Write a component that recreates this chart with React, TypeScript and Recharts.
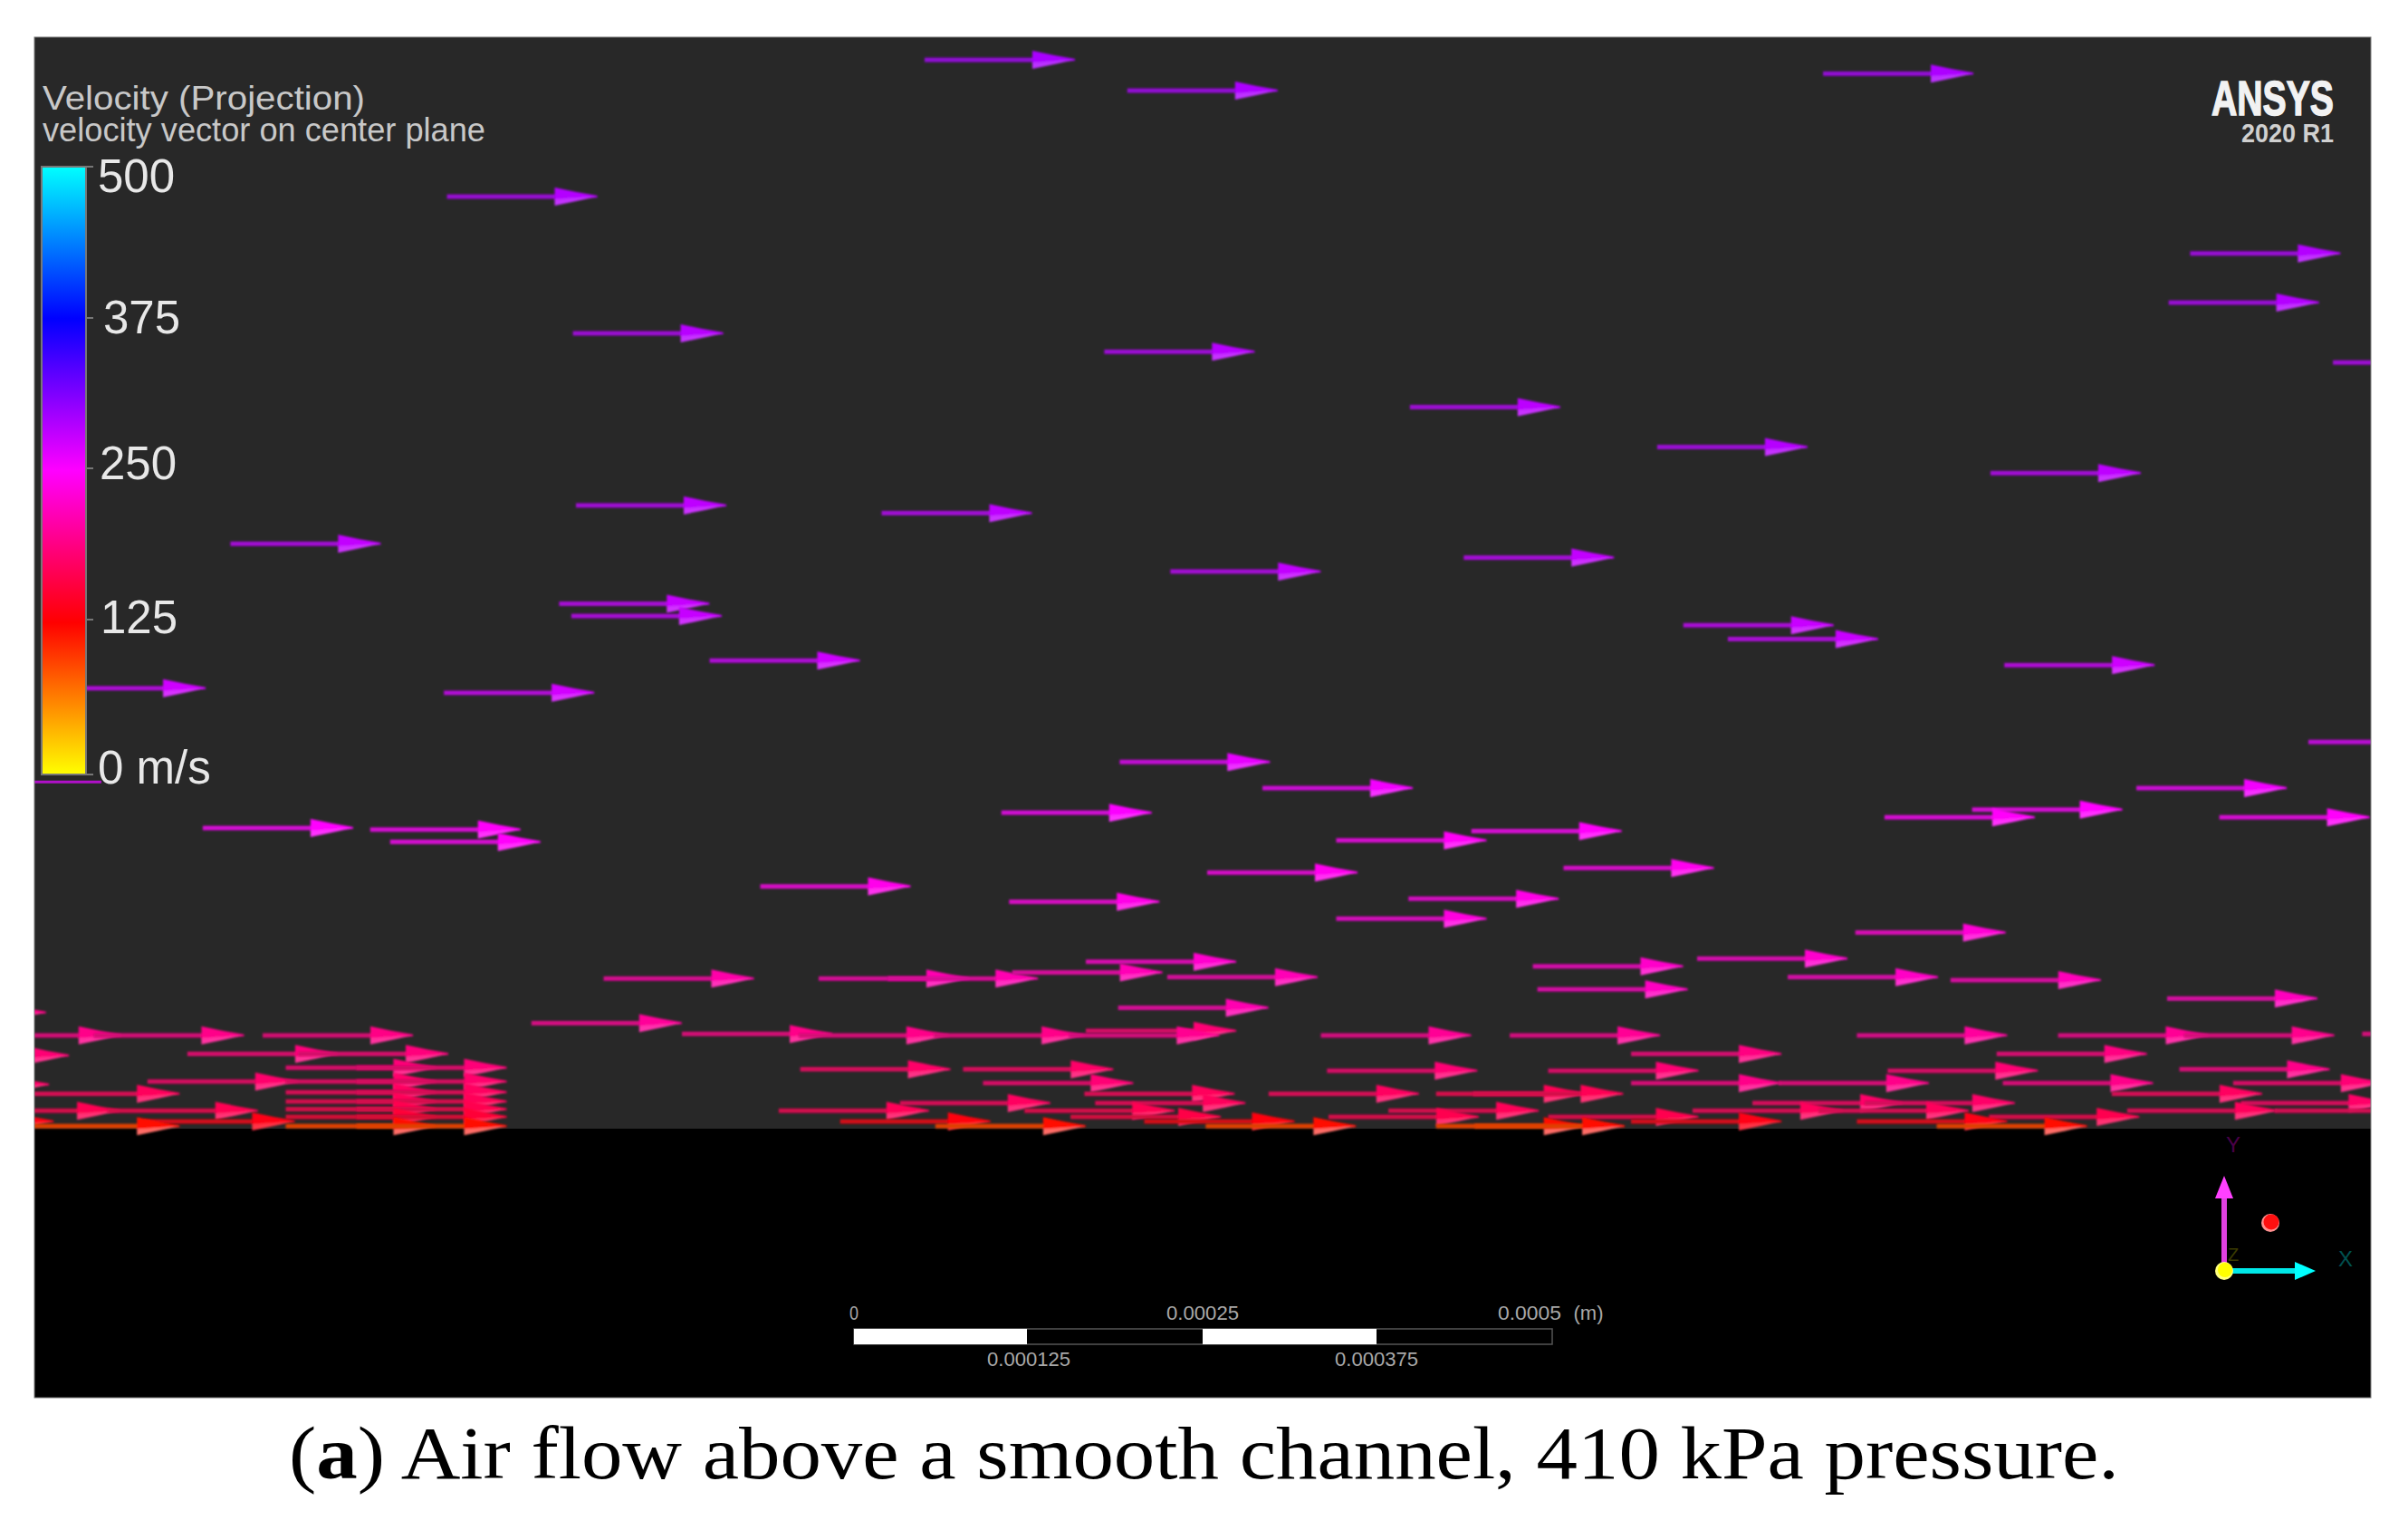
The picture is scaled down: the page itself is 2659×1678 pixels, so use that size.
import React from "react";
import { ScatterChart, Scatter, XAxis, YAxis, ReferenceArea, ReferenceLine } from "recharts";

// Every arrow: [tail position along the channel, vertical position, speed in m/s].
type A = [number, number, number];

const coreArrows: A[] = [
  [602, 39, 292], [734, 59, 290], [1187, 48, 290], [291, 128, 287], [1426, 165, 287], [1412, 197, 287],
  [373, 217, 285], [719, 229, 285], [1519, 236, 284], [918, 265, 283], [1079, 291, 286], [1296, 308, 282],
  [375, 329, 282], [574, 334, 282], [150, 354, 280], [762, 372, 280], [953, 363, 280], [364, 393, 278],
  [372, 401, 278], [1096, 407, 277], [1125, 416, 277], [462, 430, 274], [1305, 433, 274], [36, 448, 274],
  [289, 451, 272], [1503, 483, 266],
];
const midArrows: A[] = [
  [729, 496, 262], [822, 513, 256], [652, 529, 252], [1391, 513, 256], [1284, 527, 250], [1227, 532, 248],
  [1445, 532, 248], [132, 539, 250], [241, 540, 248], [254, 548, 248], [870, 547, 246], [958, 541, 248],
  [786, 568, 242], [1018, 565, 242], [495, 577, 240], [657, 587, 238], [917, 585, 238], [870, 598, 235],
  [1208, 607, 230], [1105, 624, 226], [707, 626, 226], [998, 629, 224], [1001, 644, 220], [533, 637, 212],
  [578, 637, 212], [659, 633, 214], [760, 636, 214], [393, 637, 208], [1164, 636, 222], [1270, 638, 216],
  [1411, 650, 218], [728, 656, 212], [346, 666, 200],
];
const upperLayerArrows: A[] = [
  [-68, 659, 190], [-19, 674, 192], [61, 674, 192], [171, 674, 190], [-53, 687, 182], [122, 686, 186],
  [194, 686, 186], [186, 695, 184], [232, 695, 184], [-66, 706, 176], [96, 704, 178], [186, 704, 178],
  [232, 704, 178], [444, 673, 192], [520, 674, 192], [608, 674, 192], [707, 671, 182], [696, 674, 196],
  [860, 674, 198], [983, 674, 198], [1209, 674, 202], [1340, 674, 198], [1422, 674, 194], [1538, 673, 194],
  [1062, 686, 188], [1300, 686, 188], [521, 696, 176], [627, 696, 176], [864, 697, 182], [1008, 697, 182],
  [1229, 697, 182], [1419, 696, 192], [640, 705, 182], [1062, 705, 192], [1158, 705, 192], [1304, 705, 192],
  [1454, 705, 182],
];
const nearWallArrows: A[] = [
  [19, 712, 170], [186, 711, 172], [232, 711, 172], [706, 712, 170], [826, 712, 172], [935, 712, 166],
  [959, 712, 166], [1375, 712, 172], [186, 717, 168], [232, 717, 168], [586, 718, 172], [713, 718, 170],
  [1141, 718, 176], [1214, 718, 176], [1459, 718, 176], [-20, 723, 165], [70, 723, 165], [186, 722, 164],
  [232, 722, 164], [507, 723, 168], [667, 723, 165], [904, 723, 168], [1102, 723, 170], [1184, 723, 170],
  [1385, 723, 170], [1481, 723, 170], [186, 727, 152], [232, 727, 152], [697, 727, 160], [865, 727, 164],
  [1008, 727, 164], [1295, 727, 164],
];
const wallArrows: A[] = [
  [-63, 730, 136], [94, 730, 136], [547, 730, 132], [745, 730, 132], [1062, 730, 136], [1209, 730, 136],
  [19, 733, 120], [186, 733, 120], [232, 733, 120], [609, 733, 120], [785, 733, 120], [935, 733, 120],
  [960, 733, 120], [1261, 733, 120],
];
const colorbarTicks = ["500", "375", "250", "125", "0 m/s"];
const colorStops = ["#ffff00", "#ff0000", "#ff00ff", "#0000ff", "#00ffff"];
const scaleLabelsTop = ["0", "0.00025", "0.0005"];
const scaleLabelsBottom = ["0.000125", "0.000375"];
const caption = ["(", "a", ") Air flow above a smooth channel, 410 kPa pressure."];

const toRows = (rows: A[]) => rows.map(([x, y, speed]) => ({ x, y, speed }));

const W = 2659;
const H = 1678;
const PANEL = { left: 38, top: 41, right: 2618, bottom: 1543 };
const mix = (a: number[], b: number[], t: number) => a.map((v, i) => Math.round(v + (b[i] - v) * t));
const hex = (c: string) => [1, 3, 5].map((i) => parseInt(c.slice(i, i + 2), 16));
const colorAt = (s: number) => {
  const p = Math.max(0, Math.min(3.999, s / 125));
  const i = Math.floor(p);
  return mix(hex(colorStops[i]), hex(colorStops[i + 1]), p - i);
};
const rgb = (c: number[]) => `rgb(${c.join(",")})`;

const Arrow = (props: any) => {
  const { cx, cy, payload } = props;
  const s = payload.speed as number;
  const c = colorAt(s);
  const shaft = mix(colorAt(s < 130 ? s - 28 : s), [40, 40, 40], s < 130 ? 0.15 : 0.2);
  const light = mix(c, [255, 255, 255], s < 130 ? 0.4 : 0.2);
  const len = 166;
  const headLen = 47;
  const base = cx + len - headLen;
  return (
    <g clipPath="url(#panelClip)">
      <g filter="url(#soft)">
        <rect x={cx} y={cy - 2.5} width={len - headLen + 2} height={5} fill={rgb(shaft)} />
        <polygon points={`${base},${cy - 10} ${base + 24},${cy - 5} ${cx + len},${cy - 1} ${cx + len},${cy + 1} ${base},${cy + 4}`} fill={rgb(c)} />
        <polygon points={`${base},${cy + 3} ${cx + len},${cy} ${base + 24},${cy + 5} ${base},${cy + 10}`} fill={rgb(light)} />
      </g>
    </g>
  );
};

const sans = "'Liberation Sans', Arial, sans-serif";
const tickYs = [195, 351, 512, 682, 848];
const tickXs = [108, 114, 110, 111, 108];
const tickMarkYs = [184, 351, 517, 684, 855];

export default function App() {
  return (
    <div style={{ position: "absolute", left: 0, top: 0, width: W, height: H, background: "#fff" }}>
      <ScatterChart
        width={W}
        height={H}
        margin={{ left: PANEL.left, top: PANEL.top, right: W - PANEL.right, bottom: H - PANEL.bottom }}
      >
        <defs>
          <clipPath id="panelClip">
            <rect x={PANEL.left} y={PANEL.top} width={PANEL.right - PANEL.left} height={PANEL.bottom - PANEL.top} />
          </clipPath>
          <filter id="soft" x="-5%" y="-100%" width="110%" height="300%">
            <feGaussianBlur stdDeviation="0.9" />
          </filter>
        </defs>
        <XAxis type="number" dataKey="x" domain={[22.4, 1543.7]} allowDataOverflow hide height={0} />
        <YAxis type="number" dataKey="y" domain={[24.2, 909.8]} allowDataOverflow reversed hide width={0} />
        <ReferenceArea x1={22.4} x2={1543.7} y1={24.2} y2={734.7} fill="#282828" fillOpacity={1} stroke="none" ifOverflow="visible" />
        <ReferenceArea x1={22.4} x2={1543.7} y1={734.7} y2={909.8} fill="#000000" fillOpacity={1} stroke="none" ifOverflow="visible" />
        <ReferenceLine segment={[{ x: 22.4, y: 509 }, { x: 66, y: 509 }]} stroke="#b010c8" strokeWidth={3} ifOverflow="visible" />
        <Scatter data={toRows(coreArrows)} shape={Arrow} isAnimationActive={false} />
        <Scatter data={toRows(midArrows)} shape={Arrow} isAnimationActive={false} />
        <Scatter data={toRows(upperLayerArrows)} shape={Arrow} isAnimationActive={false} />
        <Scatter data={toRows(nearWallArrows)} shape={Arrow} isAnimationActive={false} />
        <Scatter data={toRows(wallArrows)} shape={Arrow} isAnimationActive={false} />
      </ScatterChart>

      <svg width={W} height={H} style={{ position: "absolute", left: 0, top: 0, pointerEvents: "none" }}>
        <defs>
          <linearGradient id="speedBar" x1="0" y1="1" x2="0" y2="0">
            {colorStops.map((c, i) => (
              <stop key={c} offset={i / (colorStops.length - 1)} stopColor={c} />
            ))}
          </linearGradient>
        </defs>
        <rect x={PANEL.left} y={PANEL.top} width={PANEL.right - PANEL.left} height={PANEL.bottom - PANEL.top} fill="none" stroke="#7a7a7a" strokeWidth={1} />

        <text x={47} y={121} fontFamily={sans} fontSize={37} fill="#c8c8c8" textLength={356} lengthAdjust="spacingAndGlyphs">Velocity (Projection)</text>
        <text x={47} y={156} fontFamily={sans} fontSize={36} fill="#c8c8c8" textLength={489} lengthAdjust="spacingAndGlyphs">velocity vector on center plane</text>

        <rect x={46} y={184} width={49} height={671} fill="url(#speedBar)" stroke="#777" strokeWidth={2} />
        {tickYs.map((y, i) => (
          <g key={colorbarTicks[i]}>
            <line x1={95} x2={103} y1={tickMarkYs[i]} y2={tickMarkYs[i]} stroke="#777" strokeWidth={2} />
            <text x={tickXs[i]} y={y + 17} fontFamily={sans} fontSize={51} fill="#e8e8e8">{colorbarTicks[i]}</text>
          </g>
        ))}

        <text x={2442} y={127} fontFamily={sans} fontWeight={700} fontSize={54} fill="#f2f2f2" stroke="#f2f2f2" strokeWidth={1.5} textLength={135} lengthAdjust="spacingAndGlyphs">ANSYS</text>
        <text x={2475} y={157} fontFamily={sans} fontWeight={700} fontSize={30} fill="#d0d0d0" textLength={102} lengthAdjust="spacingAndGlyphs">2020 R1</text>

        <rect x={943} y={1467} width={771} height={17} fill="#000" stroke="#555" strokeWidth={1.5} />
        <rect x={943} y={1467} width={191} height={17} fill="#fff" />
        <rect x={1328} y={1467} width={192} height={17} fill="#fff" />
        {scaleLabelsTop.map((t, i) => (
          <text key={t} x={[943, 1328, 1689][i]} y={1457} textAnchor="middle" fontFamily={sans} fontSize={22} fill="#a8a8a8" textLength={[10, 80, 70][i]} lengthAdjust="spacingAndGlyphs">{t}</text>
        ))}
        <text x={1754} y={1457} textAnchor="middle" fontFamily={sans} fontSize={22} fill="#a8a8a8">(m)</text>
        {scaleLabelsBottom.map((t, i) => (
          <text key={t} x={[1136, 1520][i]} y={1508} textAnchor="middle" fontFamily={sans} fontSize={22} fill="#a8a8a8" textLength={92} lengthAdjust="spacingAndGlyphs">{t}</text>
        ))}

        <rect x={2453} y={1320} width={6} height={83} fill="#e040e0" />
        <polygon points="2456,1298 2466,1323 2446,1323" fill="#ff40ff" />
        <rect x={2456} y={1400} width={80} height={6} fill="#00e8e8" />
        <polygon points="2557,1403 2534,1393 2534,1413" fill="#00ffff" />
        <circle cx={2456} cy={1403} r={10} fill="#ffff80" />
        <circle cx={2457} cy={1402} r={8} fill="#ffff00" />
        <circle cx={2507} cy={1350} r={10} fill="#ff9090" />
        <circle cx={2508} cy={1349} r={8.5} fill="#ff1010" />
        <text x={2466} y={1272} textAnchor="middle" fontFamily={sans} fontSize={24} fill="#4a0048">Y</text>
        <text x={2590} y={1398} textAnchor="middle" fontFamily={sans} fontSize={24} fill="#005050">X</text>
        <text x={2466} y={1392} textAnchor="middle" fontFamily={sans} fontSize={20} fill="#3a3a00">Z</text>

        <text x={319} y={1632} fontFamily="'Liberation Serif', serif" fontSize={82} fill="#000" textLength={2021} lengthAdjust="spacingAndGlyphs">
          {caption[0]}
          <tspan fontWeight={700}>{caption[1]}</tspan>
          {caption[2]}
        </text>
      </svg>
    </div>
  );
}
